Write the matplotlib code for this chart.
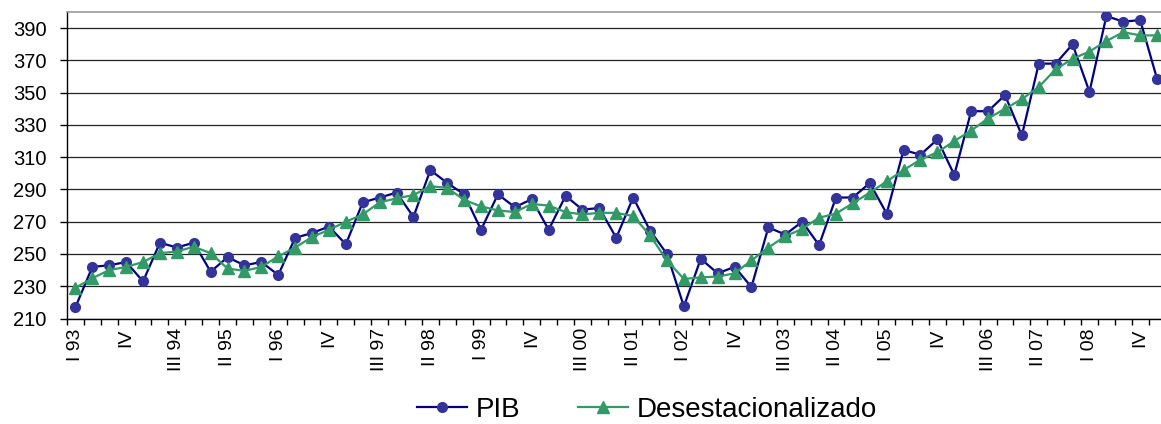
import numpy as np
import matplotlib.pyplot as plt
from matplotlib.ticker import FixedLocator

plt.rcParams['font.family'] = ['Liberation Sans', 'DejaVu Sans']

# quarterly, I 93 .. I 09 (65 quarters)
quarters = ["I", "II", "III", "IV"]
years = [f"{y:02d}" for y in list(range(93, 100)) + list(range(0, 10))]
periods = [(q, y) for y in years for q in quarters][:65]

pib = [217, 242, 243, 245, 233, 257, 254, 257, 239, 248, 243, 245, 237, 260, 263, 267,
       256, 282, 285, 288, 273, 302, 294, 287, 265, 287, 279, 284, 265, 286, 277.5, 278.5,
       260, 285, 264.5, 250, 217.5, 247, 238, 242, 229.5, 266.5, 262, 270, 255.5, 285,
       285, 294, 275, 314.5, 311.5, 321, 299, 338.5, 338.5, 348.5, 323.5, 368, 368, 380,
       350.5, 397.5, 394, 395, 358.5]
desest = [229, 235, 240, 242, 245, 250.5, 251.5, 254.5, 250.5, 241, 239.5, 242, 248.5, 254, 260.5, 265,
          270, 274.5, 282, 284.5, 286.5, 292, 291, 283.5, 279.5, 277, 276, 281, 280, 276, 274.5, 275.5,
          275.5, 273.5, 261.5, 246, 234.5, 235.5, 236, 238, 246, 254, 261, 265.5, 272.5, 275,
          281.5, 288, 295, 302, 308.5, 313, 320, 326.5, 334, 340, 346, 353.5, 364.5, 371,
          375.5, 382, 387.5, 385.5, 385.5]

yticks = list(range(210, 400, 20))

# tick labels every third quarter
label_pos = list(range(0, 64, 3))
labels = []
for i in label_pos:
    q, y = periods[i]
    labels.append(q if q == "IV" else f"{q} {y}")

x = np.arange(len(pib))

fig = plt.figure(figsize=(11.61, 4.24), dpi=100)
ax = fig.add_axes([0.0577, 0.2488, 0.9462, 0.7229])

ax.plot(x, pib, color="#000080", lw=1.6, marker="o", ms=7,
        mfc="#333399", mec="#333399", label="PIB", zorder=3)
ax.plot(x, desest, color="#339966", lw=1.6, marker="^", ms=8.5,
        mfc="#339966", mec="#339966", label="Desestacionalizado", zorder=4)

ax.set_ylim(210, 400)
ax.set_xlim(-0.5, 64.5)
ax.set_yticks(yticks)
ax.yaxis.grid(True, color="#222222", lw=0.9)
ax.set_axisbelow(True)

ax.set_xticks(label_pos)
ax.set_xticklabels(labels, rotation=90, fontsize=14)
ax.xaxis.set_minor_locator(FixedLocator(np.arange(-0.5, 65, 1)))
ax.tick_params(axis="x", which="major", length=0, pad=7)
ax.tick_params(axis="x", which="minor", length=4.5, width=1, direction="out")
ax.tick_params(axis="y", labelsize=14.5, length=5, width=1, pad=9.5)

for s in ["left", "bottom"]:
    ax.spines[s].set_color("black")
    ax.spines[s].set_linewidth(1)
ax.spines["right"].set_visible(False)
ax.spines["top"].set_color("#999999")
ax.spines["top"].set_linewidth(1.2)

fig.legend(loc="center", bbox_to_anchor=(647 / 1161, 0.033), ncol=2, frameon=False,
           fontsize=20, handlelength=1.8, handletextpad=0.3, columnspacing=2.1)

fig.savefig("out.png", dpi=100)
